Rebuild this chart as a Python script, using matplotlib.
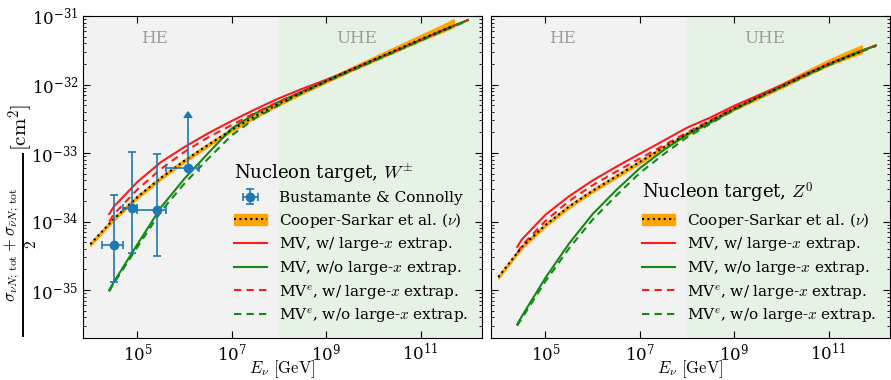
import numpy as np
import matplotlib
matplotlib.use('Agg')
import matplotlib.pyplot as plt
from matplotlib.lines import Line2D
from matplotlib.patches import Patch
from matplotlib.ticker import FixedLocator, NullLocator, LogLocator, NullFormatter

plt.rcParams['font.family'] = ['DejaVu Serif']
plt.rcParams['mathtext.fontset'] = 'cm'

# ---------------- data (log10 E/GeV, log10 sigma/cm^2) ----------------
logE_cs = [4.0, 4.5, 5.0, 5.5, 6.0, 6.5, 7.0, 7.5, 8.0, 8.5, 9.0, 9.5, 10.0, 10.5, 11.0, 11.5, 11.7]
logE_mv = [4.4, 4.5, 5.0, 5.5, 6.0, 6.5, 7.0, 7.5, 8.0, 8.5, 9.0, 9.5, 10.0, 10.5, 11.0, 11.5, 12.0]

# W+- (charged current) panel
cs_W    = [-34.33, -33.96, -33.64, -33.36, -33.11, -32.88, -32.66, -32.46, -32.28, -32.11, -31.95, -31.79, -31.64, -31.49, -31.34, -31.20, -31.14]
cs_W_hi = [-34.31, -33.94, -33.62, -33.34, -33.09, -32.86, -32.64, -32.44, -32.26, -32.09, -31.93, -31.76, -31.60, -31.44, -31.28, -31.12, -31.05]
cs_W_lo = [-34.35, -33.98, -33.66, -33.38, -33.13, -32.90, -32.68, -32.48, -32.30, -32.13, -31.97, -31.81, -31.66, -31.51, -31.36, -31.22, -31.16]
mv_W_red     = [-33.89, -33.78, -33.42, -33.13, -32.91, -32.71, -32.53, -32.36, -32.20, -32.06, -31.93, -31.79, -31.645, -31.50, -31.35, -31.20, -31.06]
mv_W_green   = [-35.00, -34.88, -34.33, -33.79, -33.37, -33.00, -32.64, -32.42, -32.25, -32.10, -31.95, -31.80, -31.65, -31.50, -31.35, -31.20, -31.06]
mve_W_red    = [-34.00, -33.89, -33.53, -33.23, -32.98, -32.77, -32.59, -32.41, -32.25, -32.10, -31.95, -31.80, -31.65, -31.50, -31.35, -31.20, -31.06]
mve_W_green  = [-35.02, -34.90, -34.37, -33.85, -33.44, -33.08, -32.74, -32.49, -32.30, -32.12, -31.96, -31.81, -31.66, -31.51, -31.36, -31.21, -31.07]

# Z0 (neutral current) panel
cs_Z    = [-34.81, -34.37, -34.05, -33.78, -33.55, -33.34, -33.13, -32.92, -32.72, -32.53, -32.35, -32.19, -32.03, -31.86, -31.70, -31.57, -31.52]
cs_Z_hi = [-34.79, -34.35, -34.03, -33.76, -33.53, -33.32, -33.11, -32.90, -32.70, -32.51, -32.33, -32.16, -31.99, -31.81, -31.64, -31.49, -31.43]
cs_Z_lo = [-34.83, -34.39, -34.07, -33.80, -33.57, -33.36, -33.15, -32.94, -32.74, -32.55, -32.37, -32.21, -32.05, -31.88, -31.72, -31.59, -31.54]
mv_Z_red     = [-34.37, -34.26, -33.90, -33.63, -33.40, -33.20, -33.01, -32.82, -32.63, -32.48, -32.31, -32.16, -32.01, -31.85, -31.70, -31.56, -31.43]
mv_Z_green   = [-35.50, -35.38, -34.82, -34.32, -33.89, -33.54, -33.22, -32.96, -32.73, -32.55, -32.36, -32.19, -32.03, -31.87, -31.71, -31.56, -31.43]
mve_Z_red    = [-34.46, -34.35, -33.99, -33.70, -33.47, -33.27, -33.08, -32.89, -32.70, -32.52, -32.34, -32.18, -32.02, -31.86, -31.70, -31.56, -31.43]
mve_Z_green  = [-35.52, -35.41, -34.87, -34.39, -33.97, -33.62, -33.29, -33.02, -32.77, -32.57, -32.37, -32.20, -32.04, -31.88, -31.72, -31.57, -31.44]

# Bustamante & Connolly measurement
bc_E      = [3.2e4, 7.5e4, 2.6e5, 1.2e6]
bc_E_lo   = [1.8e4, 5.0e4, 1.0e5, 4.0e5]
bc_E_hi   = [5.0e4, 1.0e5, 4.0e5, 2.0e6]
bc_sig    = [4.5e-35, 1.6e-34, 1.48e-34, 6.1e-34]
bc_sig_lo = [1.3e-35, 3.5e-35, 3.1e-35, 6.1e-34]
bc_sig_hi = [2.45e-34, 1.04e-33, 9.8e-34, 3.2e-33]
bc_lowerlimit = [False, False, False, True]

xlim = (7e3, 2e12)
ylim = (2e-36, 1e-31)
E_split = 1e8
xticks = [1e5, 1e7, 1e9, 1e11]
yticks = [1e-35, 1e-34, 1e-33, 1e-32, 1e-31]

p = lambda a: 10.0 ** np.asarray(a)

W, H = 891, 380
fig = plt.figure(figsize=(W / 100, H / 100), dpi=100)
axL = fig.add_axes([83/W, 42/H, 399/W, 322/H])
axR = fig.add_axes([491/W, 42/H, 399/W, 322/H])

red = '#ff1a1a'
green = '#138a13'
orange = 'orange'


def draw(ax, cs, cs_lo, cs_hi, r, g, re, ge):
    ax.set_xscale('log'); ax.set_yscale('log')
    ax.axvspan(xlim[0], E_split, color='gray', alpha=0.1, lw=0)
    ax.axvspan(E_split, xlim[1], color='green', alpha=0.1, lw=0)
    ax.fill_between(p(logE_cs), p(cs_lo), p(cs_hi), color=orange, lw=1.2, edgecolor=orange)
    l_r, = ax.plot(p(logE_mv), p(r), color=red, lw=1.5)
    l_g, = ax.plot(p(logE_mv), p(g), color=green, lw=1.5)
    l_re, = ax.plot(p(logE_mv), p(re), color=red, lw=1.5, ls=(0, (3.5, 2.5)))
    l_ge, = ax.plot(p(logE_mv), p(ge), color=green, lw=1.5, ls=(0, (3.5, 2.5)))
    ax.plot(p(logE_cs), p(cs), color='black', lw=1.5, ls=(0, (1, 1.6)))
    ax.set_xlim(*xlim); ax.set_ylim(*ylim)
    ax.xaxis.set_major_locator(FixedLocator(xticks))
    ax.xaxis.set_minor_locator(NullLocator())
    ax.yaxis.set_major_locator(FixedLocator(yticks))
    ax.yaxis.set_minor_locator(LogLocator(base=10, subs=np.arange(2, 10), numticks=20))
    ax.yaxis.set_minor_formatter(NullFormatter())
    ax.tick_params(which='both', direction='in', top=True, right=True, labelsize=12)
    ax.tick_params(which='major', length=5)
    ax.tick_params(which='minor', length=2.5)
    ax.set_xlabel(r'$E_\nu\ [\mathrm{GeV}]$', fontsize=12)
    ax.xaxis.set_label_coords(0.5, -0.062)
    ax.text(0.18, 0.93, 'HE', transform=ax.transAxes, color='#9c9c9c', fontsize=12, ha='center', va='center')
    ax.text(0.685, 0.93, 'UHE', transform=ax.transAxes, color='#9c9c9c', fontsize=12, ha='center', va='center')
    cs_handle = (Patch(facecolor=orange, edgecolor=orange), Line2D([], [], color='black', lw=1.5, ls=(0, (1, 1.6))))
    return cs_handle, l_r, l_g, l_re, l_ge


hL = draw(axL, cs_W, cs_W_lo, cs_W_hi, mv_W_red, mv_W_green, mve_W_red, mve_W_green)
hR = draw(axR, cs_Z, cs_Z_lo, cs_Z_hi, mv_Z_red, mv_Z_green, mve_Z_red, mve_Z_green)

bc_E_a = np.array(bc_E); bc_s = np.array(bc_sig)
eb = axL.errorbar(bc_E_a, bc_s,
                  xerr=[bc_E_a - np.array(bc_E_lo), np.array(bc_E_hi) - bc_E_a],
                  yerr=[bc_s - np.array(bc_sig_lo), np.array(bc_sig_hi) - bc_s],
                  lolims=bc_lowerlimit, fmt='o', color='#1f77b4', ms=6, capsize=3, elinewidth=1.2, capthick=1.2)

axR.tick_params(labelleft=False)

labels = ['Cooper-Sarkar et al. ($\\nu$)', 'MV, w/ large-$x$ extrap.', 'MV, w/o large-$x$ extrap.',
          'MV$^e$, w/ large-$x$ extrap.', 'MV$^e$, w/o large-$x$ extrap.']

leg_kw = dict(loc='lower right', frameon=False, fontsize=11, title_fontsize=13,
              alignment='left', handlelength=2.15, labelspacing=0.37, borderaxespad=0.5)
legL = axL.legend([eb] + list(hL), ['Bustamante & Connolly'] + labels,
                  title=r'Nucleon target, $W^{\pm}$', **leg_kw)
legR = axR.legend(list(hR), labels, title=r'Nucleon target, $Z^{0}$', **leg_kw)

# y-axis label: (sigma_nu + sigma_nubar)/2 [cm^2], drawn as a vertical fraction
fig.text(21/W, 1 - 127/H, r'$[\mathrm{cm}^2]$', rotation=90, ha='center', va='center', fontsize=15)
fig.text(12/W, 1 - 245/H, r'$\sigma_{\nu N;\,\mathrm{tot}}+\sigma_{\bar{\nu} N;\,\mathrm{tot}}$',
         rotation=90, ha='center', va='center', fontsize=12)
fig.add_artist(Line2D([23/W, 23/W], [1 - 154/H, 1 - 336/H], color='black', lw=1.4,
                      transform=fig.transFigure))
fig.text(31/W, 1 - 245/H, r'$2$', rotation=90, ha='center', va='center', fontsize=11)

fig.savefig('out.png', dpi=100)
